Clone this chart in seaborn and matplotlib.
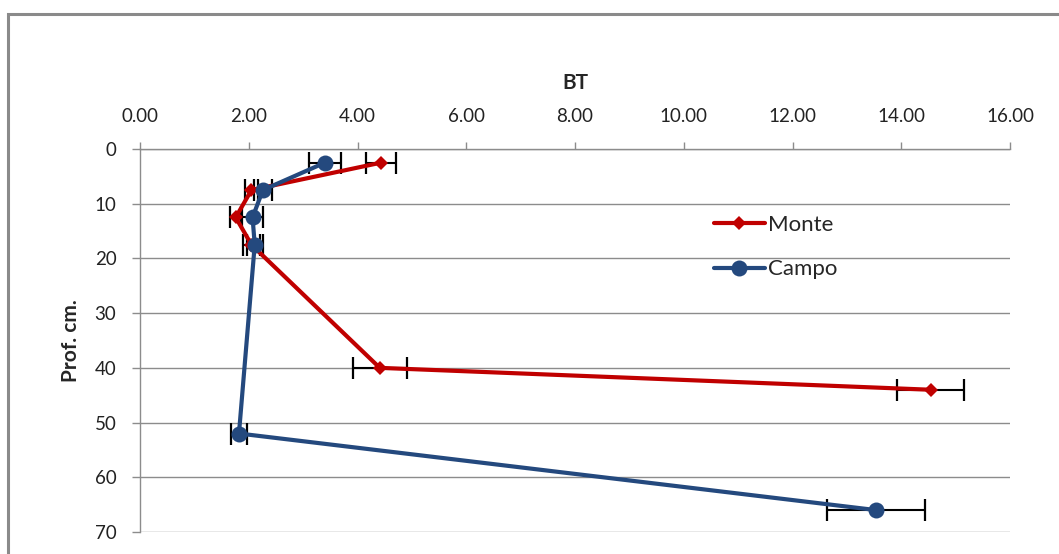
import matplotlib
matplotlib.use("Agg")
import matplotlib.pyplot as plt
from matplotlib.patches import Rectangle
from matplotlib.lines import Line2D
import seaborn as sns
import pandas as pd

# Data
monte_depth = [2.5, 7.5, 12.5, 17.5, 40, 44]
monte_bt = [4.43, 2.05, 1.76, 2.05, 4.41, 14.54]
monte_err = [0.28, 0.12, 0.10, 0.15, 0.50, 0.62]

campo_depth = [2.5, 7.5, 12.5, 17.5, 52, 66]
campo_bt = [3.40, 2.26, 2.07, 2.11, 1.82, 13.54]
campo_err = [0.29, 0.16, 0.19, 0.15, 0.15, 0.90]

x_ticks = [0, 2, 4, 6, 8, 10, 12, 14, 16]
y_ticks = [0, 10, 20, 30, 40, 50, 60, 70]

red = "#C00000"
blue = "#24497E"
grid_c = "#8C8C8C"

sns.set_theme(style="white")
plt.rcParams["font.family"] = ["Lato", "DejaVu Sans"]

df = pd.concat([
    pd.DataFrame({"BT": monte_bt, "depth": monte_depth, "serie": "Monte"}),
    pd.DataFrame({"BT": campo_bt, "depth": campo_depth, "serie": "Campo"}),
])

fig = plt.figure(figsize=(10.59, 5.54), dpi=100)
ax = fig.add_axes([140 / 1059, 1 - 532 / 554, 870 / 1059, 383 / 554])

# error bars (below lines)
ax.errorbar(monte_bt, monte_depth, xerr=monte_err, fmt="none", ecolor="black",
            elinewidth=1.5, capsize=8, capthick=1.6, zorder=2)
ax.errorbar(campo_bt, campo_depth, xerr=campo_err, fmt="none", ecolor="black",
            elinewidth=1.5, capsize=8, capthick=1.6, zorder=2)

sns.lineplot(data=df[df.serie == "Monte"], x="BT", y="depth", orient="y", sort=False,
             color=red, lw=3, marker="D", markersize=7, markeredgewidth=0,
             ax=ax, zorder=3, legend=False)
sns.lineplot(data=df[df.serie == "Campo"], x="BT", y="depth", orient="y", sort=False,
             color=blue, lw=3, marker="o", markersize=11.5, markeredgewidth=0,
             ax=ax, zorder=3, legend=False)

ax.set_xlim(0, 16)
ax.set_ylim(70, 0)
ax.xaxis.tick_top()
ax.xaxis.set_label_position("top")
ax.set_xticks(x_ticks)
ax.set_xticklabels([f"{v:.2f}" for v in x_ticks])
ax.set_yticks(y_ticks)
ax.set_yticklabels([str(v) for v in y_ticks])

ax.tick_params(axis="x", which="both", top=True, bottom=False, direction="out",
               length=5, width=1, color=grid_c, pad=12, labelsize=13.5, labelcolor="#222222")
ax.tick_params(axis="y", which="both", left=True, direction="out",
               length=6, width=1, color=grid_c, pad=11, labelsize=13.5, labelcolor="#222222")

ax.yaxis.grid(True, color=grid_c, lw=1)
ax.xaxis.grid(False)
for s in ["right", "bottom"]:
    ax.spines[s].set_visible(False)
for s in ["top", "left"]:
    ax.spines[s].set_color(grid_c)
    ax.spines[s].set_linewidth(1)

ax.set_xlabel("BT", fontsize=15, fontweight="bold", labelpad=14)
ax.set_ylabel("Prof. cm.", fontsize=15, fontweight="bold", labelpad=10)

handles = [
    Line2D([], [], color=red, lw=3, marker="D", markersize=7, markeredgewidth=0),
    Line2D([], [], color=blue, lw=3, marker="o", markersize=11.5, markeredgewidth=0),
]
ax.legend(handles, ["Monte", "Campo"], loc="upper left",
          bbox_to_anchor=((705 - 140) / 870, 1 - (206 - 149) / 383),
          frameon=False, fontsize=16, handlelength=2.3, handletextpad=0.12,
          labelspacing=1.1, borderaxespad=0)

ax.set_zorder(1)
ax.patch.set_alpha(0)

fig.patches.append(Rectangle((8 / 1059, -0.1), 1.2, 1.1 - 14 / 554,
                             transform=fig.transFigure, fill=False,
                             edgecolor="#8A8A8A", lw=2.2))

fig.savefig("out.png", dpi=100)
